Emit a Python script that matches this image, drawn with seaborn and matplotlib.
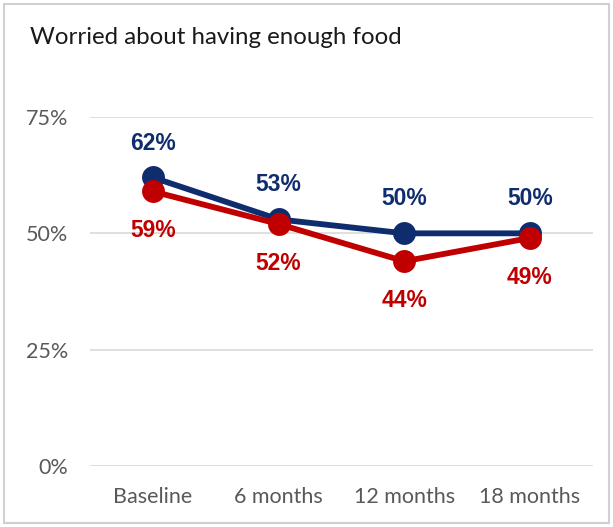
import matplotlib
matplotlib.use("Agg")
import matplotlib.pyplot as plt
import seaborn as sns
import pandas as pd
from matplotlib.patches import Rectangle

categories = ["Baseline", "6 months", "12 months", "18 months"]
series_a = [62, 53, 50, 50]   # navy
series_b = [59, 52, 44, 49]   # red
yticks = [0, 25, 50, 75]
title = "Worried about having enough food"

navy = "#0F2D6E"
red = "#C00000"

sns.set_theme(style="white")
plt.rcParams['font.family'] = ['Lato', 'DejaVu Sans']

df = pd.DataFrame({
    "period": categories * 2,
    "value": series_a + series_b,
    "series": ["A"] * 4 + ["B"] * 4,
})
df["x"] = list(range(4)) * 2

fig = plt.figure(figsize=(6.13, 5.27), dpi=100)
ax = fig.add_axes([0.147, 0.1157, 0.82, 0.6623])

sns.lineplot(data=df, x="x", y="value", hue="series", palette={"A": navy, "B": red},
             marker="o", markersize=16.5, markeredgewidth=0, linewidth=4.2, ax=ax,
             legend=False)
for ln in ax.lines:
    ln.set_clip_on(False)
    ln.set_solid_capstyle("round")

for i, v in enumerate(series_a):
    ax.text(i, v + 7.4, f"{v}%", ha="center", va="center", color=navy,
            fontsize=16.5, fontweight="bold", family=["Liberation Sans", "DejaVu Sans"])
for i, v in enumerate(series_b):
    ax.text(i, v - 8.4, f"{v}%", ha="center", va="center", color=red,
            fontsize=16.5, fontweight="bold", family=["Liberation Sans", "DejaVu Sans"])

ax.set_xlim(-0.5, 3.5)
ax.set_ylim(0, 75)
ax.set_yticks(yticks)
ax.set_yticklabels([f"{t}%" for t in yticks], color="#595959", fontsize=15.5)
ax.set_xticks(range(4))
ax.set_xticklabels(categories, color="#595959", fontsize=15.5)
ax.tick_params(axis="y", length=0, pad=16)
ax.tick_params(axis="x", length=0, pad=15)
ax.set_xlabel("")
ax.set_ylabel("")
ax.grid(axis="y", color="#D9D9D9", linewidth=1.2)
ax.set_axisbelow(True)
for s in ax.spines.values():
    s.set_visible(False)

fig.text(30 / 613, 1 - 38 / 527, title, ha="left", va="center", fontsize=17.3, color="#1a1a1a")
fig.patches.append(Rectangle((0.007, 0.007), 0.986, 0.986, transform=fig.transFigure,
                             fill=False, edgecolor="#D0D0D0", linewidth=1.5))

fig.savefig("out.png", dpi=100)
